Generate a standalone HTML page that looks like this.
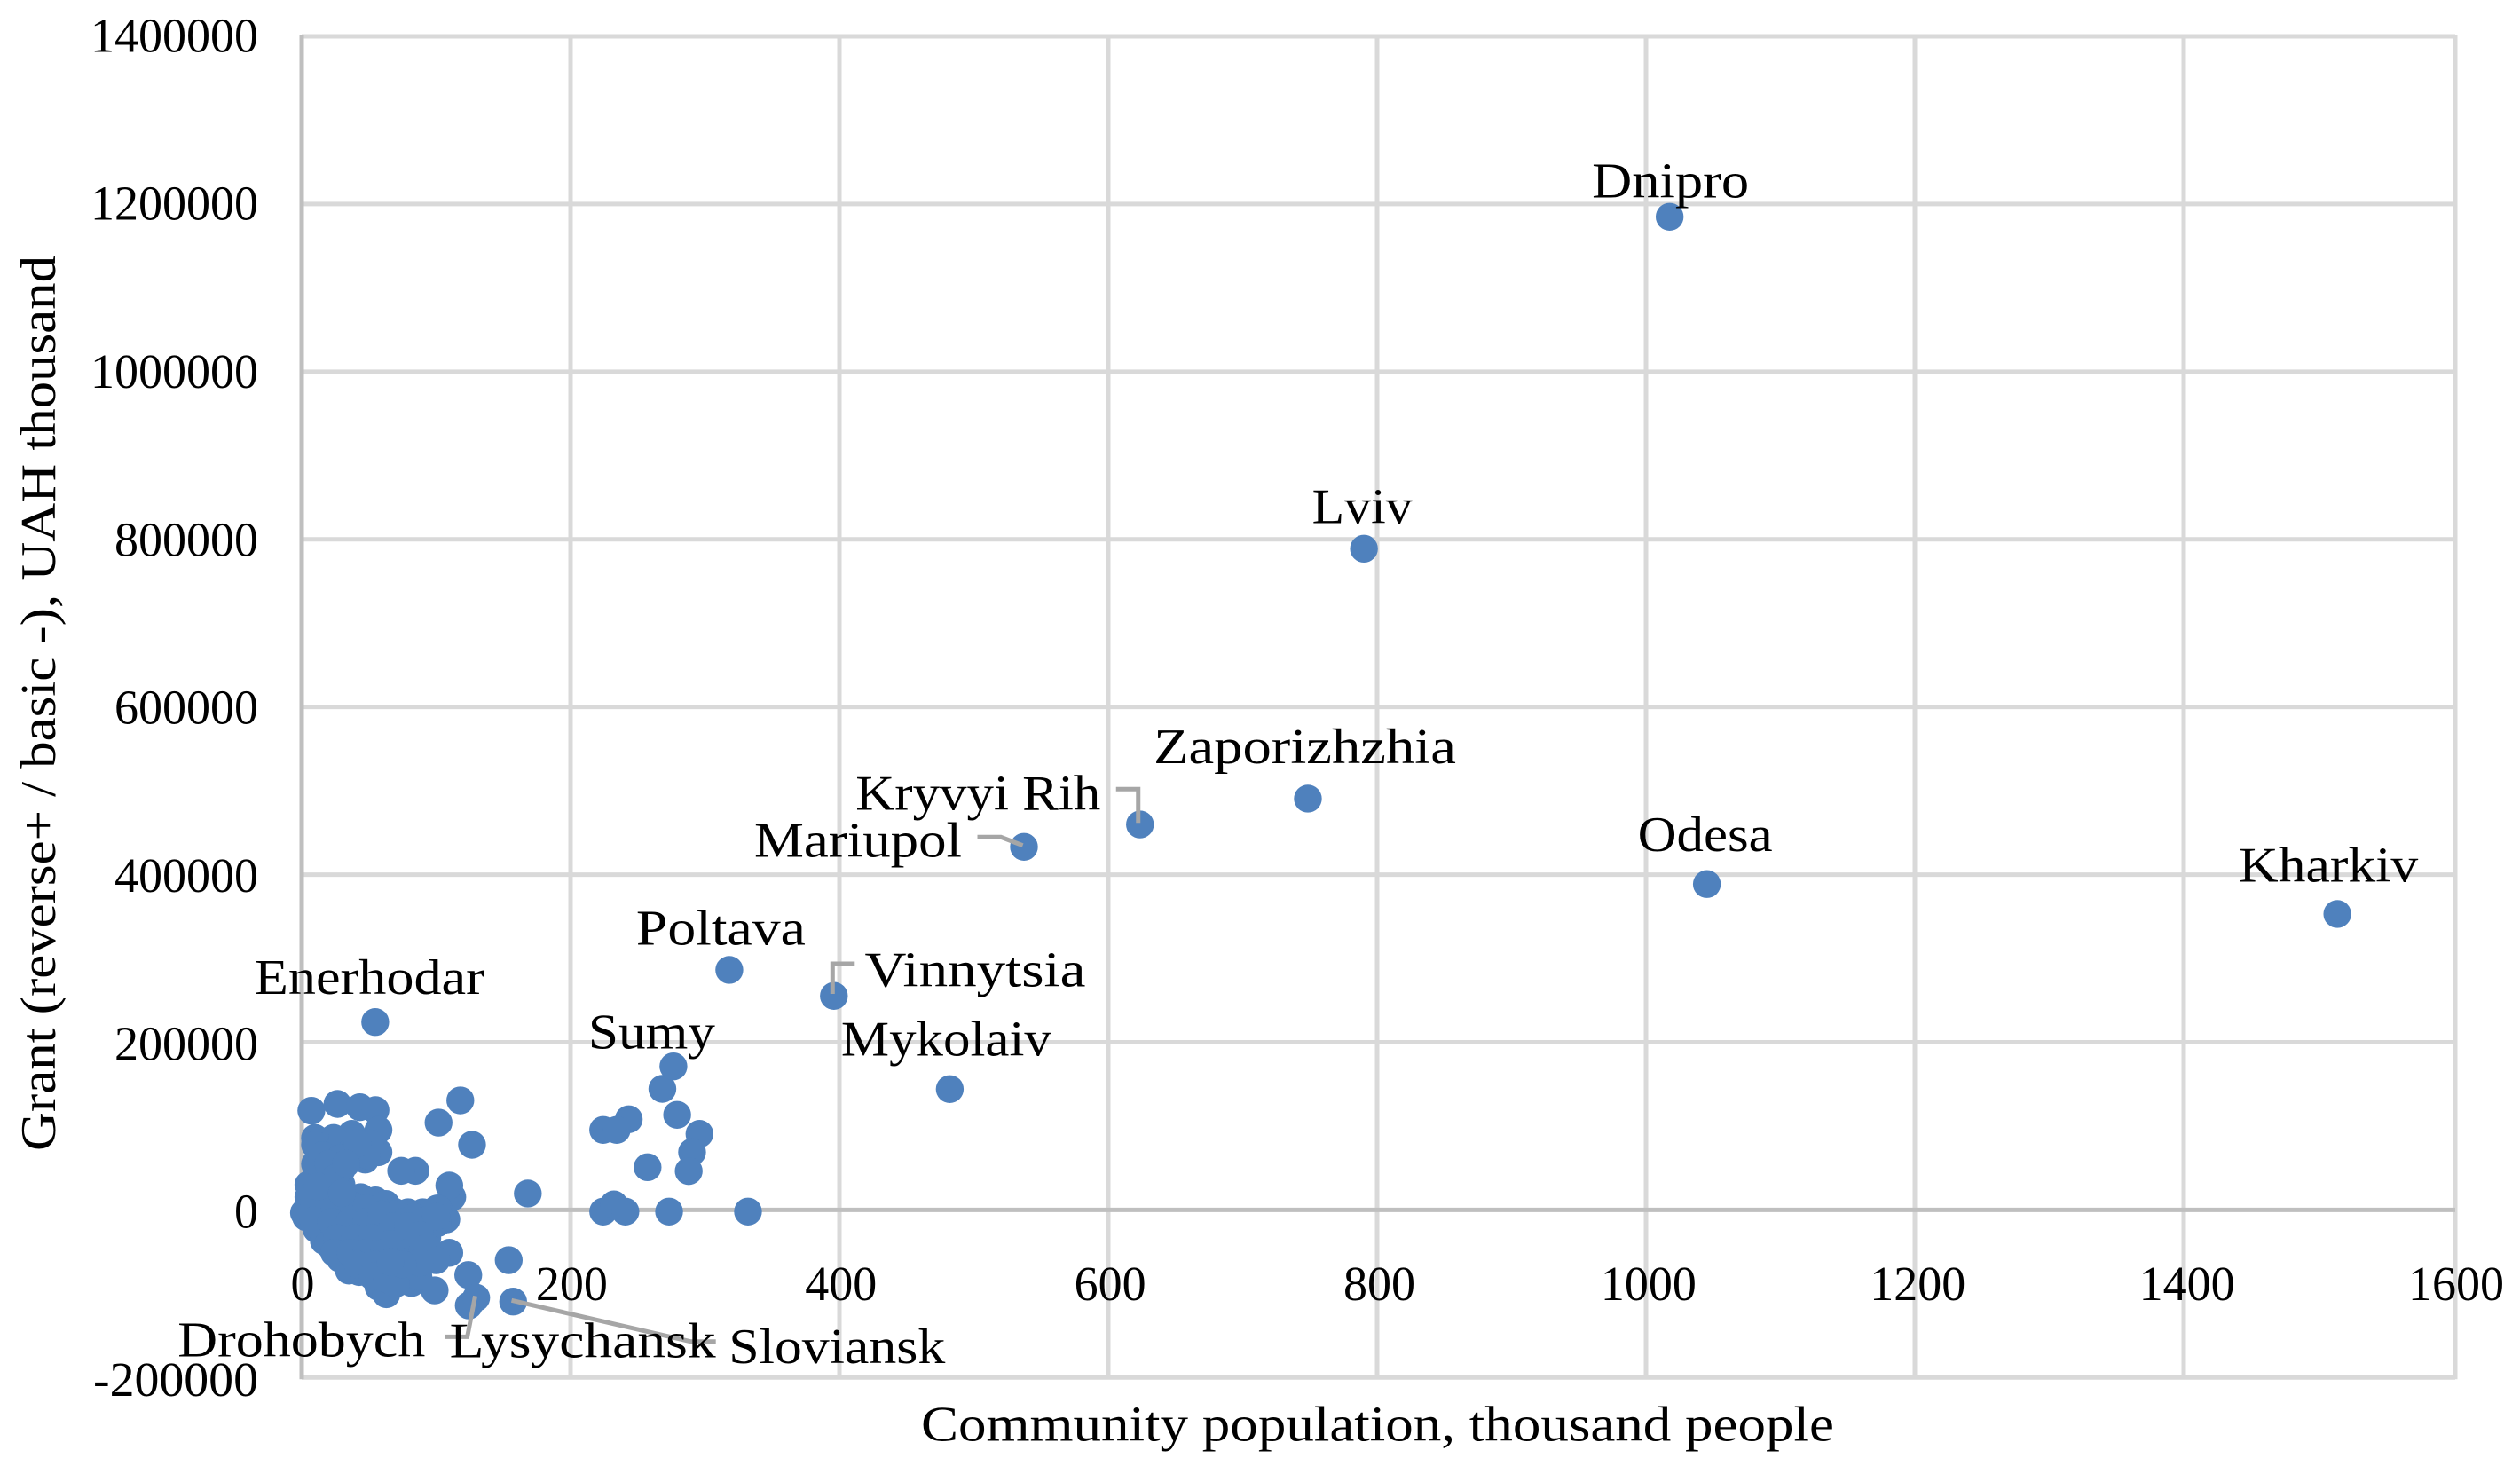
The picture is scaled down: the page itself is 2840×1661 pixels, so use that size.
<!DOCTYPE html>
<html lang="en">
<head>
<meta charset="utf-8">
<title>Grant versus community population</title>
<style>
  html, body { margin: 0; padding: 0; background: #ffffff; width: 2840px; height: 1661px; overflow: hidden; }
  svg { display: block; }
  text { font-family: "Liberation Serif", serif; fill: #000000; }
</style>
</head>
<body>
<svg id="chart" xmlns="http://www.w3.org/2000/svg" width="2840" height="1661" viewBox="0 0 2840 1661"></svg>
<script>
const xTickValues = [0, 200, 400, 600, 800, 1000, 1200, 1400, 1600];
const yTickValues = [1400000, 1200000, 1000000, 800000, 600000, 400000, 200000, 0, -200000];
const xAxisTitle = 'Community population, thousand people';
const yAxisTitle = 'Grant (reverse+ / basic -), UAH thousand';

const cityNames = ['Dnipro', 'Lviv', 'Zaporizhzhia', 'Kryvyi Rih', 'Mariupol', 'Vinnytsia', 'Poltava', 'Mykolaiv', 'Odesa', 'Kharkiv', 'Enerhodar', 'Sumy', 'Drohobych', 'Lysychansk', 'Sloviansk'];
const cityPopulation = [1017.6, 790.2, 748.5, 623.6, 537.3, 395.9, 318.1, 482.1, 1045.3, 1514.3, 54.7, 276.5, 124.3, 129.8, 157.3];
const cityGrant = [1184800, 788800, 490600, 459800, 433100, 255300, 286300, 144100, 388700, 353000, 224100, 171200, -114000, -104800, -109400];

const otherPopulation = [
  268.3, 279.3, 243.3, 224.3, 234.3, 295.9, 290.4, 257.3, 287.9, 224.3, 232.3, 240.8, 273.3, 332, 168.2,
  118, 101.8, 126.7, 154, 123.9,
  7.2, 26.6, 43.3, 54.9, 57.1, 57.1, 47.2, 37.3, 23.7, 9.9, 9.9, 9.9, 5, 5, 1.7, 3.3, 11, 16.5, 23, 29.6, 34.7, 42.8, 57.1, 63, 81.7, 98.9, 109.8, 93.4, 107.6, 112, 109.8, 101.5, 84.6, 74,
  22, 37.3, 50.5, 48.3, 30.7, 29.6, 17.6, 29.6, 43.9, 54.9, 62.6, 68.5, 17.6, 30.7,
  15.4, 28.5, 41.7, 54.9, 68.1, 79.1, 90.1, 100.6,
  24.2, 37.3, 50.5, 63.7, 74.7,
  19.8, 32.9, 46.1, 59.3, 71.4,
  28.5, 41.7, 54.9, 68.1, 83.5, 93.4,
  35.1, 48.3, 61.5, 74.7, 86.8,
  15.4, 28.5, 41.7, 15.4, 23, 11, 23, 37.3, 48.3, 8.8, 22, 35.1, 48.3, 59.3, 68.1, 83.5, 92.3, 101, 79.1,
  26.3, 39.5, 52.7, 65.9, 79.1, 90.1, 24.2, 36.2, 48.3, 61.5, 73.6, 83.5, 41.7, 54.9, 67, 74.7, 86.8, 52.7, 63.7,
  20, 25, 12, 30, 33, 100, 88, 93, 100, 88, 70, 75, 66
];
const otherGrant = [
  144400, 113400, 108100, 95400, 95400, 90700, 68900, 50900, 46300, -2000, 6500, -2000, -2000, -2000, 19500,
  130600, 104100, 77700, -60000, -77700,
  118300, 126400, 122500, 119000, 95300, 68800, 60000, 90700, 85800, 85800, 77700, 54700, 30000, 15200, -3500, -8800, -23000, -37000, -46000, -56500, -68800, -74100, -91800, -100600, -87200, -96000, -51200, -33500, -11300, 15200, 29000, 1800, 46600, 46600,
  49400, 70600, 79400, 65300, 61800, 47700, 30000, 30000, 15200, 11300, 7100, -1800, 12400, 12400,
  -5300, -5300, -5300, -5300, -5300, -2800, -2800, 1400,
  -22900, -22900, -22900, -22900, -14100,
  -40600, -40600, -40600, -40600, -33500,
  -58200, -58200, -58200, -58200, -52900, -54700,
  -72400, -72400, -72400, -72400, -68800,
  65300, 61800, 79400, 40600, 30000, 15900, 5300, 5300, 1800, -12400, -14100, -15900, -14100, -5300, -19400, -8800, -12400, -15900, -19400,
  -33500, -33500, -33500, -40600, -51200, -47600, -51200, -51200, -51200, -51200, -61800, -65300, -65300, -65300, -72400, -79400, -79400, -79400, -82900,
  55000, 38000, 28000, 20000, 55000, -8000, -30000, -45000, -60000, -63000, -88000, -65000, -62000
];

const PLOT_LEFT = 340, PLOT_RIGHT = 2764, PLOT_EDGE = 2767, PLOT_TOP = 41, PLOT_BOTTOM = 1552.3;
const X_MIN = 0, X_MAX = 1600, Y_MIN = -200000, Y_MAX = 1400000;
function xScale(v) { return PLOT_LEFT + (v - X_MIN) / (X_MAX - X_MIN) * (PLOT_RIGHT - PLOT_LEFT); }
function yScale(v) { return PLOT_TOP + (Y_MAX - v) / (Y_MAX - Y_MIN) * (PLOT_BOTTOM - PLOT_TOP); }

const SVG_NS = 'http://www.w3.org/2000/svg';
const chart = document.getElementById('chart');

function addLine(x1, y1, x2, y2, color, width, name) {
  const el = document.createElementNS(SVG_NS, 'line');
  
  
  el.setAttribute('x1', x1);
  el.setAttribute('y1', y1);
  el.setAttribute('x2', x2);
  el.setAttribute('y2', y2);
  el.setAttribute('stroke', color);
  el.setAttribute('stroke-width', width);
  chart.appendChild(el);
}

function addText(str, x, y, size, anchor, length, name, transform) {
  const el = document.createElementNS(SVG_NS, 'text');
  
  
  el.setAttribute('x', x);
  el.setAttribute('y', y);
  el.setAttribute('font-size', size);
  el.setAttribute('text-anchor', anchor);
  el.setAttribute('textLength', length);
  el.setAttribute('lengthAdjust', 'spacingAndGlyphs');
  if (transform) el.setAttribute('transform', transform);
  el.textContent = str;
  chart.appendChild(el);
}

function addPoint(xv, yv, name) {
  const el = document.createElementNS(SVG_NS, 'circle');
  
  
  el.setAttribute('cx', xScale(xv));
  el.setAttribute('cy', yScale(yv));
  el.setAttribute('r', 15.7);
  el.setAttribute('fill', '#4f81bd');
  chart.appendChild(el);
}

function addLeader(points, name) {
  const el = document.createElementNS(SVG_NS, 'polyline');
  
  
  el.setAttribute('points', points);
  el.setAttribute('fill', 'none');
  el.setAttribute('stroke', '#a6a6a6');
  el.setAttribute('stroke-width', 5);
  chart.appendChild(el);
}

/* gridlines */
yTickValues.forEach(function (v) {
  if (v !== 0) addLine(PLOT_LEFT, yScale(v), PLOT_EDGE, yScale(v), '#d9d9d9', 5, 'horizontal-gridline');
});
xTickValues.forEach(function (v) {
  if (v === 0) return;
  const gx = v === X_MAX ? PLOT_EDGE : xScale(v);
  addLine(gx, PLOT_TOP - 2, gx, PLOT_BOTTOM + 2, '#d9d9d9', 5, 'vertical-gridline');
});

/* axes */
addLine(PLOT_LEFT, PLOT_TOP - 2, PLOT_LEFT, PLOT_BOTTOM + 2, '#bfbfbf', 5, 'y-axis-line');
addLine(PLOT_LEFT, yScale(0), PLOT_EDGE, yScale(0), '#bfbfbf', 5, 'x-axis-line');

/* points */
otherPopulation.forEach(function (p, i) {
  addPoint(p, otherGrant[i], 'community-point');
});
cityPopulation.forEach(function (p, i) {
  addPoint(p, cityGrant[i], 'city-point');
});

/* leader lines, offset from their data point */
const leaderLayout = [
  { city: 'Kryvyi Rih', offsets: [[-27, -39.8], [-2, -39.8], [-2, -1.8]] },
  { city: 'Mariupol', offsets: [[-52.5, -11], [-26, -11], [-1.4, -1.6]] },
  { city: 'Vinnytsia', offsets: [[23.5, -36.3], [-1.5, -36.3], [-1.5, -2.3]] },
  { city: 'Lysychansk', offsets: [[-35, 44], [-10, 44], [-1.1, -2]] },
  { city: 'Sloviansk', offsets: [[228.4, 45], [200, 45], [-1.8, -1.4]] }
];
leaderLayout.forEach(function (l) {
  const i = cityNames.indexOf(l.city);
  const px = xScale(cityPopulation[i]);
  const py = yScale(cityGrant[i]);
  const pts = l.offsets.map(function (o) { return (px + o[0]) + ',' + (py + o[1]); }).join(' ');
  addLeader(pts, 'leader-line');
});

/* tick labels */
xTickValues.forEach(function (v) {
  const s = String(v);
  addText(s, xScale(v) + 1 + v * 0.001875, 1465, 55, 'middle', s.length * 27, 'x-tick-label');
});
yTickValues.forEach(function (v) {
  const s = String(v);
  const baseline = yScale(v) + 17.3 + (Y_MAX - v) / (Y_MAX - Y_MIN) * 3.4;
  const len = v < 0 ? 186 : s.length * 27;
  addText(s, 291, baseline, 55, 'end', len, 'y-tick-label');
});

/* city labels, offset from their data point */
const labelLayout = {
  'Dnipro': [-87.5, -22, 177],
  'Lviv': [-58.5, -28.6, 113],
  'Zaporizhzhia': [-174, -40, 341],
  'Kryvyi Rih': [-320.5, -16.4, 276],
  'Mariupol': [-304, 11.4, 234],
  'Vinnytsia': [34.7, -10.6, 249],
  'Poltava': [-105, -28.7, 191],
  'Mykolaiv': [-122.5, -38, 237],
  'Odesa': [-78, -37.3, 152],
  'Kharkiv': [-111, -36.7, 202],
  'Enerhodar': [-136, -31.7, 259],
  'Sumy': [-96, -20, 143],
  'Drohobych': [-328, 57.3, 279],
  'Lysychansk': [-30, 67.3, 300],
  'Sloviansk': [243, 69.3, 244]
};
cityNames.forEach(function (n, i) {
  const l = labelLayout[n];
  addText(n, xScale(cityPopulation[i]) + l[0], yScale(cityGrant[i]) + l[1], 56, 'start', l[2], 'city-label');
});

/* axis titles */
addText(xAxisTitle, 1038, 1623.3, 56, 'start', 1029, 'x-axis-title');
addText(yAxisTitle, 0, 0, 56, 'start', 1009, 'y-axis-title', 'translate(62,1297) rotate(-90)');
</script>
</body>
</html>
